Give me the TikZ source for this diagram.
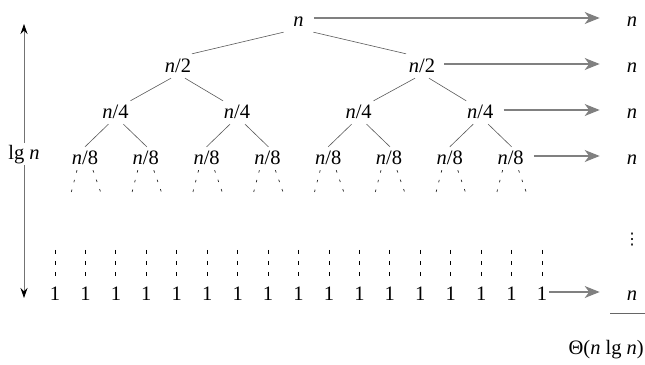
\documentclass[tikz,border=0pt]{standalone}
\usepackage{fontspec}
\setmainfont{Liberation Serif}
\newfontfamily\symfont{DejaVu Sans}
\usetikzlibrary{arrows.meta,calc}
\begin{document}
\begin{tikzpicture}[x=1pt,y=-1pt,
  lbl/.style={inner sep=0pt, text height=16pt, text depth=0pt, font=\fontsize{20.5}{24}\selectfont, anchor=base},
  edge/.style={draw=black!65, line width=0.6pt},
  dotl/.style={draw=black!85, line width=0.7pt, dash pattern=on 2.5pt off 7.5pt},
  dashl/.style={draw=black, line width=0.8pt, dash pattern=on 4pt off 7pt},
  garr/.style={draw=black!50, line width=1.3pt, -{Stealth[length=15pt,width=12pt,inset=4.5pt,fill=black!50]}, shorten >=27pt},
  larr/.style={draw=black!55, line width=0.8pt, {Stealth[black,length=10pt,width=7pt]}-{Stealth[black,length=10pt,width=7pt]}},
  rule/.style={draw=black!60, line width=0.7pt}]
\useasboundingbox (0,0) rectangle (645,364);

% tree nodes
\node[lbl] (r) at (298.5,26) {\textit{n}};
\node[lbl] (a1) at (178,72) {\textit{n}/2};
\node[lbl] (a2) at (422,72) {\textit{n}/2};
\node[lbl] (b1) at (115.4,118) {\textit{n}/4};
\node[lbl] (b2) at (237,118) {\textit{n}/4};
\node[lbl] (b3) at (358.6,118) {\textit{n}/4};
\node[lbl] (b4) at (480.2,118) {\textit{n}/4};
\foreach \i in {1,...,8} {
  \node[lbl] (c\i) at ({85+60.8*(\i-1)},164) {\textit{n}/8};
}

% tree edges
\draw[edge] ($(r.south)+(-15,6)$) -- ($(a1.north)+(14,-2)$);
\draw[edge] ($(r.south)+(15,6)$) -- ($(a2.north)+(-16,-2)$);
\foreach \p/\l/\rr in {a1/b1/b2, a2/b3/b4} {
  \draw[edge] ($(\p.south)+(-7,6)$) -- ($(\l.north)+(15,-1)$);
  \draw[edge] ($(\p.south)+(7,6)$) -- ($(\rr.north)+(-14,-1)$);
}
\foreach \p/\l/\rr in {b1/c1/c2, b2/c3/c4, b3/c5/c6, b4/c7/c8} {
  \draw[edge] ($(\p.south)+(-7,6)$) -- ($(\l.north)+(0,-1)$);
  \draw[edge] ($(\p.south)+(8,6)$) -- ($(\rr.north)+(1,-1)$);
}
% dotted continuations
\foreach \i in {1,...,8} {
  \draw[dotl] ($(c\i.south)+(-8,6)$) -- ++(-6,23);
  \draw[dotl] ($(c\i.south)+(8,6)$) -- ++(8,23);
}

% leaves
\foreach \i in {0,...,16} {
  \node[lbl] (o\i) at ({55+30.44*\i},300) {1};
  \draw[dashl] ($(o\i.north)+(0,-34)$) -- ($(o\i.north)+(0,-8)$);
}

% right column
\node[lbl] (s0) at (632,26) {\textit{n}};
\node[lbl] (s1) at (632,72) {\textit{n}};
\node[lbl] (s2) at (632,118) {\textit{n}};
\node[lbl] (s3) at (632,164) {\textit{n}};
\node[lbl] (s4) at (632,300) {\textit{n}};
\node[inner sep=0pt, font=\symfont\fontsize{16}{18}\selectfont] (vd) at (632,240) {⋮};

\draw[garr, shorten <=10pt] (r) -- (s0);
\draw[garr, shorten <=9pt] (a2) -- (s1);
\draw[garr, shorten <=10pt] (b4) -- (s2);
\draw[garr, shorten <=10pt] (c8) -- (s3);
\draw[garr, shorten <=2pt] (o16) -- (s4);

% sum rule and total
\coordinate (h1) at (610,313);
\coordinate (h2) at (645,313);
\draw[rule] (h1) -- (h2);
\node[lbl, anchor=base east] (th) at (644,354) {Θ(\textit{n} lg \textit{n})};

% height arrow
\coordinate (la) at (24,24);
\coordinate (lb) at (24,298);
\draw[larr] (la) -- (lb);
\node[lbl, fill=white, inner sep=2pt, text height=13.6pt, text depth=4.4pt] (lg) at (24,159) {lg \textit{n}};
\end{tikzpicture}
\end{document}
